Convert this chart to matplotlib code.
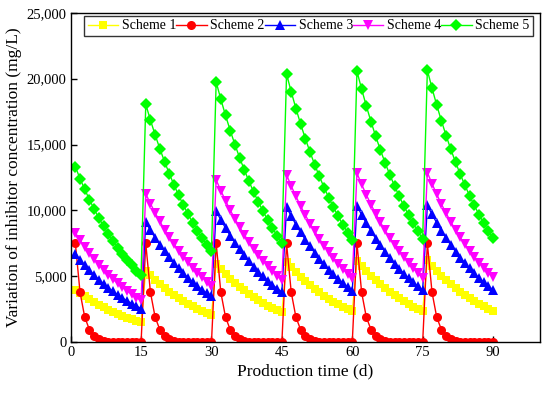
import matplotlib
matplotlib.use("Agg")
import matplotlib.pyplot as plt
from matplotlib.ticker import StrMethodFormatter

plt.rcParams['font.family'] = ['Liberation Serif', 'DejaVu Serif']
plt.rcParams['mathtext.fontset'] = 'stix'

days = list(range(1, 91))

scheme1 = [
    4000, 3734, 3486, 3255, 3039, 2837, 2649, 2473, 2309, 2155, 2012, 1879, 1754, 1637, 1529,
    5427, 5067, 4730, 4416, 4123, 3849, 3594, 3355, 3132, 2924, 2730, 2549, 2380, 2222, 2074,
    5936, 5542, 5174, 4830, 4510, 4210, 3931, 3670, 3426, 3198, 2986, 2788, 2603, 2430, 2269,
    6118, 5712, 5333, 4978, 4648, 4340, 4051, 3782, 3531, 3297, 3078, 2873, 2683, 2504, 2338,
    6183, 5772, 5389, 5031, 4697, 4385, 4094, 3823, 3568, 3332, 3110, 2904, 2711, 2531, 2363,
    6206, 5794, 5409, 5050, 4715, 4401, 4109, 3837, 3581, 3344, 3122, 2915, 2722, 2540, 2371,
]

scheme2 = [
    7500, 3780, 1900, 960, 480, 240, 120, 60, 30, 15, 8, 4, 2, 1, 0,
    7500, 3780, 1900, 960, 480, 240, 120, 60, 30, 15, 8, 4, 2, 1, 0,
    7500, 3780, 1900, 960, 480, 240, 120, 60, 30, 15, 8, 4, 2, 1, 0,
    7500, 3780, 1900, 960, 480, 240, 120, 60, 30, 15, 8, 4, 2, 1, 0,
    7500, 3780, 1900, 960, 480, 240, 120, 60, 30, 15, 8, 4, 2, 1, 0,
    7500, 3780, 1900, 960, 480, 240, 120, 60, 30, 15, 8, 4, 2, 1, 0,
]

scheme3 = [
    6700, 6255, 5840, 5452, 5090, 4752, 4437, 4142, 3867, 3610, 3370, 3147, 2938, 2743, 2561,
    9091, 8488, 7924, 7398, 6906, 6448, 6020, 5620, 5247, 4898, 4573, 4270, 3986, 3721, 3475,
    9944, 9284, 8667, 8092, 7554, 7053, 6585, 6147, 5739, 5358, 5002, 4670, 4360, 4071, 3801,
    10248, 9568, 8932, 8339, 7785, 7269, 6786, 6336, 5914, 5521, 5155, 4813, 4494, 4195, 3916,
    10357, 9669, 9028, 8428, 7868, 7346, 6858, 6402, 5977, 5580, 5210, 4864, 4542, 4240, 3958,
    10395, 9704, 9061, 8459, 7897, 7373, 6884, 6426, 5999, 5601, 5229, 4882, 4558, 4255, 3973,
]

scheme4 = [
    8300, 7749, 7234, 6754, 6306, 5887, 5496, 5131, 4790, 4472, 4175, 3898, 3639, 3398, 3172,
    11261, 10514, 9815, 9164, 8555, 7987, 7456, 6962, 6500, 6067, 5665, 5289, 4937, 4609, 4303,
    12318, 11500, 10737, 10023, 9358, 8737, 8157, 7615, 7109, 6638, 6197, 5785, 5401, 5042, 4708,
    12695, 11852, 11065, 10330, 9644, 9005, 8407, 7848, 7327, 6840, 6387, 5963, 5567, 5197, 4852,
    12830, 11978, 11183, 10440, 9747, 9100, 8496, 7932, 7405, 6913, 6454, 6026, 5626, 5252, 4903,
    12878, 12023, 11225, 10479, 9784, 9134, 8527, 7961, 7432, 6939, 6478, 6048, 5647, 5271, 4922,
]

scheme5 = [
    13300, 12417, 11592, 10823, 10104, 9433, 8807, 8222, 7676, 7166, 6691, 6246, 5832, 5444, 5083,
    18045, 16847, 15728, 14684, 13709, 12799, 11949, 11155, 10415, 9723, 9078, 8475, 7912, 7387, 6896,
    19738, 18427, 17204, 16061, 14995, 14000, 13070, 12202, 11392, 10635, 9929, 9269, 8654, 8080, 7543,
    20343, 18992, 17731, 16553, 15454, 14428, 13470, 12576, 11741, 10962, 10234, 9554, 8919, 8327, 7774,
    20558, 19193, 17918, 16728, 15618, 14581, 13613, 12709, 11865, 11078, 10342, 9655, 9014, 8415, 7857,
    20635, 19265, 17985, 16791, 15676, 14636, 13664, 12757, 11910, 11119, 10381, 9691, 9048, 8447, 7886,
]

labels = ["Scheme 1", "Scheme 2", "Scheme 3", "Scheme 4", "Scheme 5"]
x_ticks = [0, 15, 30, 45, 60, 75, 90]
y_ticks = [0, 5000, 10000, 15000, 20000, 25000]

series = [scheme1, scheme2, scheme3, scheme4, scheme5]
colors = ['#FFFF00', '#FF0000', '#0000FF', '#FF00FF', '#00FF00']
markers = ['s', 'o', '^', 'v', 'D']
msizes = [6, 6.5, 7, 7, 5.8]

fig = plt.figure(figsize=(5.5, 3.93), dpi=100)
ax = fig.add_axes([0.1285, 0.129, 0.8533, 0.8387])

for ys, c, m, ms, lab in zip(series, colors, markers, msizes, labels):
    ax.plot(days, ys, color=c, marker=m, markersize=ms, linewidth=1.0,
            markeredgewidth=0, label=lab)

ax.set_xlim(0, 100)
ax.set_ylim(0, 25000)
ax.set_xticks(x_ticks)
ax.set_yticks(y_ticks)
ax.yaxis.set_major_formatter(StrMethodFormatter('{x:,.0f}'))
ax.tick_params(direction='in', length=4, width=1, labelsize=10.5, pad=3)
for sp in ax.spines.values():
    sp.set_linewidth(1.0)

ax.set_xlabel("Production time (d)", fontsize=12.5, labelpad=3)
ax.set_ylabel("Variation of inhibitor concentration (mg/L)", fontsize=12.5, labelpad=3)

leg = ax.legend(loc='upper center', bbox_to_anchor=(0.507, 0.99), ncol=5,
                fontsize=10, frameon=True, fancybox=False, edgecolor='black',
                handlelength=2.2, handletextpad=0.25, columnspacing=0.0,
                borderpad=0.25, borderaxespad=0)
leg.get_frame().set_linewidth(1.0)

fig.savefig("out.png", dpi=100)
